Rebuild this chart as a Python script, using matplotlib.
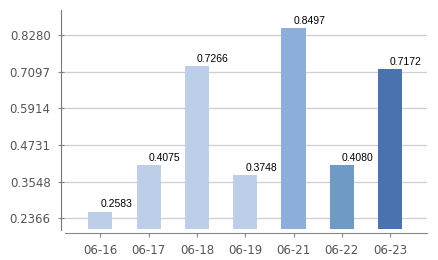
import matplotlib
matplotlib.use('Agg')
import numpy as np
import matplotlib.pyplot as plt

## values
dates = ['06-16', '06-17', '06-18', '06-19', '06-21', '06-22', '06-23']
values = [0.2583, 0.4075, 0.7266, 0.3748, 0.8497, 0.4080, 0.7172]
bar_colors = ['#BDCEE8', '#BDCEE8', '#BDCEE8', '#BDCEE8', '#8DAED9', '#6F9AC6', '#4A72AE']
yticks = [0.2366, 0.3548, 0.4731, 0.5914, 0.7097, 0.8280]

base = 0.2011   # bars start a bit above the x axis line
ymin, ymax = 0.1882, 0.9087
xmin, xmax = -0.814, 6.764

fig = plt.figure(figsize=(4.38, 2.60), dpi=100)
ax = fig.add_axes([61/438., 1-233.3/260., 366/438., 223.3/260.])

x = np.arange(len(dates))
heights = np.array(values) - base

for yt in yticks:
    ax.axhline(yt, xmin=2/366., xmax=1.0, color='#CFCFCF', lw=0.9, zorder=0)

ax.bar(x, heights, bottom=base, width=0.5, color=bar_colors, zorder=2)

for xi, v in zip(x, values):
    ax.annotate('%.4f' % v, (xi, v), xytext=(0, 1.5), textcoords='offset points',
                ha='left', va='bottom', fontsize=7.5, family='Liberation Sans', color='black')

ax.set_xlim(xmin, xmax)
ax.set_ylim(ymin, ymax)
ax.set_xticks(x)
ax.set_xticklabels(dates)
ax.set_yticks(yticks)
ax.set_yticklabels(['%.4f' % t for t in yticks])

ax.spines['top'].set_visible(False)
ax.spines['right'].set_visible(False)
ax.spines['left'].set_color('#777777')
ax.spines['bottom'].set_color('#888888')
ax.spines['left'].set_bounds(0.199, ymax)
ax.spines['bottom'].set_bounds(-0.73, xmax)

ax.tick_params(axis='y', direction='inout', length=5, width=0.8, color='#888888',
               labelsize=8.5, labelcolor='#555555', pad=5)
ax.tick_params(axis='x', direction='out', length=3, width=0.8, color='#888888',
               labelsize=8.5, labelcolor='#555555', pad=5)

plt.savefig('out.png', dpi=100)
plt.close()
